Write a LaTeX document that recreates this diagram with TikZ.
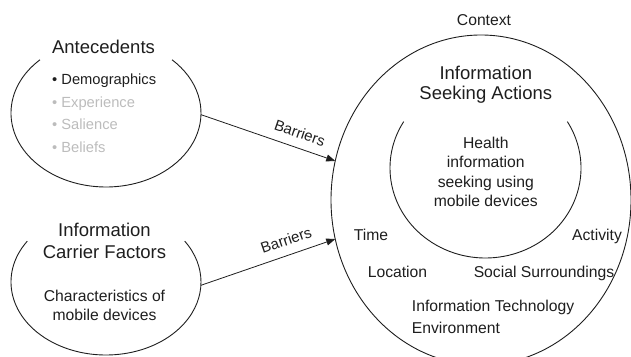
\documentclass[tikz,border=0pt]{standalone}
\usepackage{fontspec}
\setmainfont{Liberation Sans}
\usetikzlibrary{arrows.meta,shapes.geometric}
\definecolor{lightgr}{RGB}{188,188,188}
\definecolor{ink}{RGB}{30,30,30}
\begin{document}
\begin{tikzpicture}[x=1pt,y=1pt,
  ell/.style={ellipse, draw=none, inner sep=0pt, outer sep=0pt},
  edge/.style={line width=0.9pt, draw=ink},
  conn/.style={line width=0.8pt, draw=ink, -{Triangle[length=9pt,width=7pt]}},
  ttl/.style={font=\fontsize{18.5}{22}\selectfont, text=ink, anchor=base, inner sep=0pt},
  txt/.style={font=\fontsize{15.7}{19}\selectfont, text=ink, anchor=base, inner sep=0pt},
  txtw/.style={font=\fontsize{15.7}{19}\selectfont, text=ink, anchor=base west, inner sep=0pt},
  lst/.style={font=\fontsize{14.7}{18}\selectfont, anchor=base west, inner sep=0pt},
  lbl/.style={font=\fontsize{15}{18}\selectfont, text=ink, sloped, above=6pt, inner sep=3pt}
]
\useasboundingbox (0,0) rectangle (631,356);
\clip (0,0) rectangle (631,356);

% shapes
\node[ell, minimum width=190pt, minimum height=148pt] (ante) at (106,243) {};
\node[ell, minimum width=190pt, minimum height=146pt] (carrier) at (106,74) {};
\node[ell, draw=ink, line width=0.9pt, minimum width=300pt, minimum height=330pt] (ctx) at (481,156) {};
\node[ell, minimum width=191pt, minimum height=180pt] (inner) at (485.5,188) {};

\draw[edge] ([shift={(134:95pt and 74pt)}]ante.center) arc[start angle=134, end angle=406, x radius=95pt, y radius=74pt];
\draw[edge] ([shift={(146:95pt and 73pt)}]carrier.center) arc[start angle=146, end angle=394, x radius=95pt, y radius=73pt];
\draw[edge] ([shift={(149:95.5pt and 90pt)}]inner.center) arc[start angle=149, end angle=391, x radius=95.5pt, y radius=90pt];

% connectors
\draw[conn] (ante.-1) -- node[lbl, pos=0.7] {Barriers} (ctx.165);
\draw[conn] (carrier.-2) -- node[lbl, pos=0.67] {Barriers} (ctx.195);

% Antecedents
\node[ttl] (tante) at (103.5,302.7) {Antecedents};
\node[lst, text=ink] (l1) at (52,271) {• Demographics};
\node[lst, text=lightgr] (l2) at (52,248.5) {• Experience};
\node[lst, text=lightgr] (l3) at (52,226) {• Salience};
\node[lst, text=lightgr] (l4) at (52,203) {• Beliefs};

% Carrier
\node[ttl] (tc1) at (104.5,119.3) {Information};
\node[ttl] (tc2) at (104.5,97.7) {Carrier Factors};
\node[txt] (c1) at (104.5,54.3) {Characteristics of};
\node[txt] (c2) at (104.5,36) {mobile devices};

% Context
\node[txt] (tctx) at (484,330) {Context};
\node[ttl] (ts1) at (485.8,276) {Information};
\node[ttl] (ts2) at (485.8,256) {Seeking Actions};
\node[txt] (h1) at (485.8,207.7) {Health};
\node[txt] (h2) at (485.8,188.2) {information};
\node[txt] (h3) at (485.8,168.7) {seeking using};
\node[txt] (h4) at (485.8,149.2) {mobile devices};
\node[txt] (time) at (371,115.5) {Time};
\node[txt] (act) at (597,115.5) {Activity};
\node[txt] (loc) at (397.5,78.7) {Location};
\node[txt] (soc) at (544,78.7) {Social Surroundings};
\node[txtw] (it) at (411.7,45) {Information Technology};
\node[txtw] (env) at (411.7,22.7) {Environment};
\end{tikzpicture}
\end{document}
